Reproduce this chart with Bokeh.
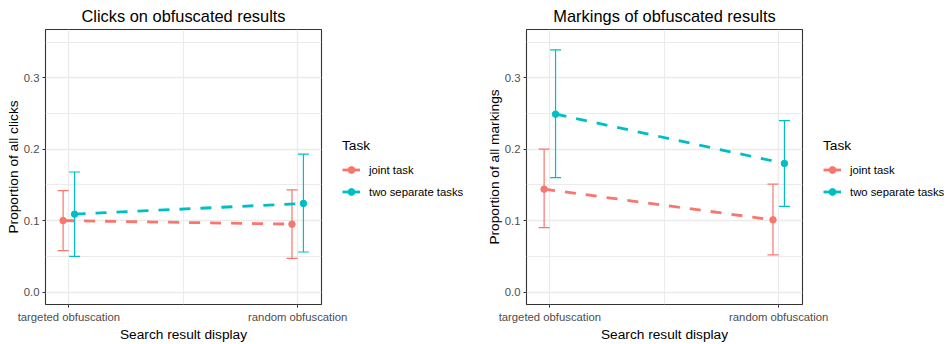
from bokeh.plotting import figure
from bokeh.models import (ColumnDataSource, Range1d, FixedTicker, Whisker, TeeHead,
                          Legend, LegendItem, PrintfTickFormatter)
from bokeh.layouts import row
from bokeh.embed import file_html
from bokeh.resources import INLINE

# ---- data ----
conditions = ["targeted obfuscation", "random obfuscation"]
tasks = ["joint task", "two separate tasks"]
task_colors = ["#F8766D", "#00BFC4"]

clicks_joint = [0.100, 0.095]
clicks_joint_lo = [0.058, 0.047]
clicks_joint_hi = [0.142, 0.143]
clicks_sep = [0.109, 0.124]
clicks_sep_lo = [0.050, 0.056]
clicks_sep_hi = [0.168, 0.193]

mark_joint = [0.144, 0.101]
mark_joint_lo = [0.090, 0.052]
mark_joint_hi = [0.200, 0.151]
mark_sep = [0.249, 0.180]
mark_sep_lo = [0.160, 0.120]
mark_sep_hi = [0.339, 0.240]

y_ticks = [0.0, 0.1, 0.2, 0.3]
y_minor = [0.05, 0.15, 0.25, 0.35]

FONT = "Liberation Sans"
DODGE = [-0.025, 0.025]
FRAME_W = 276


def make_panel(title, ylabel, series, left_border, width):
    p = figure(width=width, height=344, output_backend="svg", toolbar_location=None,
               x_range=Range1d(0.898, 2.104), y_range=Range1d(-0.0175, 0.3675),
               min_border_left=left_border, min_border_right=width - left_border - FRAME_W,
               min_border_top=29, min_border_bottom=35,
               background_fill_color="white", border_fill_color="white",
               outline_line_color="#333333", outline_line_width=1.1)
    p.title.text = title
    p.title.align = "center"
    p.title.vertical_align = "top"
    p.title.text_line_height = 0.8
    p.title.text_font = FONT
    p.title.text_font_size = "16.4px"
    p.title.text_font_style = "normal"
    p.title.text_color = "black"
    p.title.standoff = 6

    xt = FixedTicker(ticks=[1, 2], minor_ticks=[1.5])
    yt = FixedTicker(ticks=y_ticks, minor_ticks=y_minor)
    p.xaxis.ticker = xt
    p.yaxis.ticker = yt
    p.xgrid.ticker = xt
    p.ygrid.ticker = yt
    p.xaxis.major_label_overrides = {i + 1: c for i, c in enumerate(conditions)}
    p.yaxis.formatter = PrintfTickFormatter(format="%.1f")
    for g in (p.xgrid, p.ygrid):
        g.grid_line_color = "#EBEBEB"
        g.grid_line_width = 1.3
        g.minor_grid_line_color = "#EBEBEB"
        g.minor_grid_line_width = 1.0
    for ax in (p.xaxis, p.yaxis):
        ax.axis_line_color = None
        ax.major_tick_line_color = "#333333"
        ax.major_tick_out = 3
        ax.major_tick_in = 0
        ax.minor_tick_line_color = None
        ax.major_label_text_font = FONT
        ax.major_label_text_font_size = "11.3px"
        ax.major_label_text_color = "#4D4D4D"
        ax.axis_label_text_font = FONT
        ax.axis_label_text_font_size = "13.7px"
        ax.axis_label_text_font_style = "normal"
        ax.axis_label_text_color = "black"
    p.xaxis.axis_label = "Search result display"
    p.yaxis.axis_label = ylabel
    p.xaxis.major_label_standoff = 2
    p.xaxis.axis_label_standoff = 1
    p.yaxis.major_label_standoff = 2
    p.yaxis.axis_label_standoff = 0

    for k, (vals, lo, hi) in enumerate(series):
        c = task_colors[k]
        src = ColumnDataSource(dict(
            x=[i + 1 + DODGE[k] for i in range(len(conditions))],
            y=vals, lo=lo, hi=hi))
        wh = Whisker(base="x", lower="lo", upper="hi", source=src,
                     line_color=c, line_width=1.2,
                     upper_head=TeeHead(size=11, line_color=c, line_width=1.2),
                     lower_head=TeeHead(size=11, line_color=c, line_width=1.2))
        p.add_layout(wh)
        p.line("x", "y", source=src, line_color=c, line_width=2.8, line_dash="11 10")
        p.scatter("x", "y", source=src, size=6.5, color=c)
    return p


def make_legend(width, series):
    # transparent overlay holding only the legend; its glyphs sit outside its ranges
    lf = figure(width=width, height=344, output_backend="svg", toolbar_location=None,
                x_range=Range1d(-3, -2), y_range=Range1d(-3, -2),
                x_axis_location=None, y_axis_location=None,
                min_border=0, outline_line_color=None,
                background_fill_alpha=0, border_fill_alpha=0)
    lf.grid.visible = False
    items = []
    for k, t in enumerate(tasks):
        c = task_colors[k]
        src = ColumnDataSource(dict(x=[i + 1 for i in range(len(conditions))], y=series[k]))
        key_line = lf.line("x", "y", source=src, line_color=c, line_width=2.8)
        key_pt = lf.scatter("x", "y", source=src, size=6.5, color=c)
        items.append(LegendItem(label=t, renderers=[key_line, key_pt]))
    leg = Legend(items=items, title="Task", location=(21, 104),
                 margin=0, padding=5, spacing=5, glyph_width=18, glyph_height=17,
                 label_standoff=9, title_standoff=8,
                 border_line_color=None, background_fill_alpha=0,
                 label_text_font=FONT, label_text_font_size="11.3px", label_text_color="black",
                 title_text_font=FONT, title_text_font_size="13.7px",
                 title_text_font_style="normal", title_text_color="black")
    lf.add_layout(leg)
    lf.margin = (0, 0, 0, -width)
    return lf


p1 = make_panel("Clicks on obfuscated results", "Proportion of all clicks",
                [(clicks_joint, clicks_joint_lo, clicks_joint_hi),
                 (clicks_sep, clicks_sep_lo, clicks_sep_hi)], 45, 474)
l1 = make_legend(474 - 45 - FRAME_W, [clicks_joint, clicks_sep])
p2 = make_panel("Markings of obfuscated results", "Proportion of all markings",
                [(mark_joint, mark_joint_lo, mark_joint_hi),
                 (mark_sep, mark_sep_lo, mark_sep_hi)], 52, 474)
l2 = make_legend(474 - 52 - FRAME_W, [mark_joint, mark_sep])

layout = row(p1, l1, p2, l2)
open("out.html", "w").write(file_html(layout, INLINE))
